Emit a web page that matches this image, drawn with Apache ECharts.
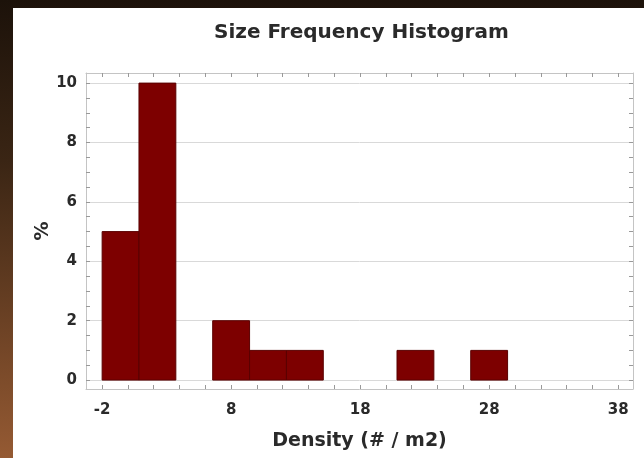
<!DOCTYPE html>
<html>
<head>
<meta charset="utf-8">
<script src="https://cdn.jsdelivr.net/npm/echarts@6/dist/echarts.min.js"></script>
<style>
html,body{margin:0;padding:0;width:644px;height:458px;overflow:hidden;}
body{background:linear-gradient(to bottom,#1c120a 0%,#3a2514 35%,#6b4124 70%,#955a33 100%);position:relative;}
#panel{position:absolute;left:13px;top:8px;width:640px;height:460px;background:#fff;}
#chart{position:absolute;left:0;top:0;width:644px;height:458px;}
</style>
</head>
<body>
<div id="panel"></div>
<div id="chart"></div>
<script>
// Histogram data (bin edges in density units, heights in %)
const binEdges = [-2, 0.857, 3.714, 6.571, 9.429, 12.286, 15.143, 18, 20.857, 23.714, 26.571, 29.429];
const percents = [5, 10, 0, 2, 1, 1, 0, 0, 1, 0, 1];
const xLabels = [-2, 8, 18, 28, 38];
const yLabels = [0, 2, 4, 6, 8, 10];
const titleText = 'Size Frequency Histogram';
const xTitle = 'Density (# / m2)';
const yTitle = '%';

const xMin = -3.25, xMax = 39.15, yMin = -0.3, yMax = 10.34;
const xMinor = []; for (let v = -2; v <= 38.001; v += 2) xMinor.push(v);
const yMinor = []; for (let v = 0; v <= 10.001; v += 0.5) yMinor.push(v);

const data = [];
for (let i = 0; i < percents.length; i++) {
  if (percents[i] > 0) data.push([binEdges[i], binEdges[i + 1], percents[i]]);
}

const font = 'DejaVu Sans';
const txt = '#2a2a2a';
const frame = '#c4c4c4';

function axisX(pos, labels) {
  return {
    type: 'value', position: pos, min: xMin, max: xMax,
    axisLine: {show: true, onZero: false, lineStyle: {color: frame, width: 1}},
    axisTick: {show: true, inside: true, length: 4, customValues: xMinor, lineStyle: {color: '#999'}},
    axisLabel: labels ? {show: true, customValues: xLabels, margin: 14, color: txt, fontFamily: font, fontWeight: 'bold', fontSize: 15} : {show: false},
    splitLine: {show: false},
    name: labels ? xTitle : '', nameLocation: 'middle', nameGap: 43, nameMoveOverlap: false,
    nameTextStyle: {color: txt, fontFamily: font, fontWeight: 'bold', fontSize: 19}
  };
}
function axisY(pos, labels) {
  return {
    type: 'value', position: pos, min: yMin, max: yMax,
    axisLine: {show: true, onZero: false, lineStyle: {color: frame, width: 1}},
    axisTick: {show: true, inside: true, length: 4, customValues: yMinor, lineStyle: {color: '#999'}},
    axisLabel: labels ? {show: true, customValues: yLabels, margin: 9, color: txt, fontFamily: font, fontWeight: 'bold', fontSize: 15} : {show: false},
    splitLine: {show: false},
    name: labels ? yTitle : '', nameLocation: 'middle', nameGap: 33, nameRotate: 90, nameMoveOverlap: false,
    nameTextStyle: {color: txt, fontFamily: font, fontWeight: 'bold', fontSize: 19}
  };
}

const chart = echarts.init(document.getElementById('chart'), null, {renderer: 'canvas'});
chart.setOption({
  animation: false,
  backgroundColor: 'transparent',
  grid: {left: 86, top: 73, right: 11, bottom: 69, containLabel: false},
  graphic: [{
    type: 'text', left: 214, top: 23,
    style: {text: titleText, fill: txt, font: 'bold 20px "DejaVu Sans"'}
  }],
  xAxis: [axisX('bottom', true), axisX('top', false)],
  yAxis: [axisY('left', true), axisY('right', false)],
  series: [{
    type: 'custom',
    xAxisIndex: 0, yAxisIndex: 0,
    encode: {x: [0, 1], y: 2},
    data: data,
    renderItem: function (params, api) {
      const p0 = api.coord([api.value(0), api.value(2)]);
      const p1 = api.coord([api.value(1), 0]);
      return {
        type: 'rect',
        shape: {x: p0[0], y: p0[1], width: p1[0] - p0[0], height: p1[1] - p0[1]},
        style: {fill: '#7d0000', stroke: '#5a0000', lineWidth: 1}
      };
    },
    markLine: {
      silent: true, symbol: ['none', 'none'], label: {show: false},
      lineStyle: {color: '#d9d9d9', type: 'solid', width: 1},
      data: yLabels.map(v => ({yAxis: v})),
      z: 0
    },
    z: 2
  }]
});
</script>
</body>
</html>
